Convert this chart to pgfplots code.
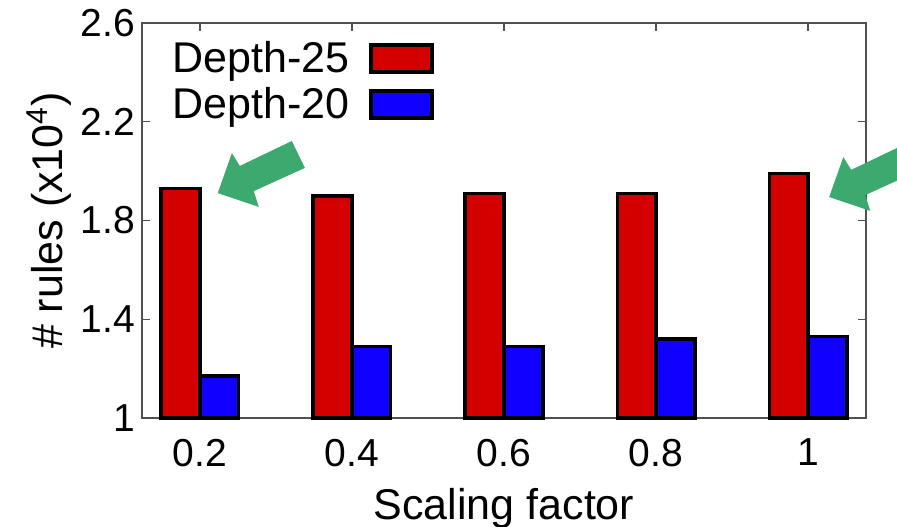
\documentclass[border=0pt]{standalone}
\usepackage{pgfplots}
\pgfplotsset{compat=1.18}
\usepackage{fontspec}
\setmainfont{Liberation Sans}
\definecolor{barred}{RGB}{212,0,0}
\definecolor{barblue}{RGB}{16,0,255}
\definecolor{arrowgreen}{RGB}{60,170,110}
\definecolor{axgray}{RGB}{80,80,80}
\newcommand{\bigfont}{\fontsize{19.5bp}{23bp}\selectfont}
\newcommand{\labfont}{\fontsize{21.5bp}{25bp}\selectfont}
\pgfplotsset{
  legend image code/.code={\draw[#1, line width=1.75bp] (0bp,-6.75bp) rectangle (30.5bp,6.75bp);}
}
\begin{document}
\begin{tikzpicture}
\begin{axis}[
  scale only axis,
  width=362bp, height=197.5bp,
  xmin=-0.38, xmax=4.38,
  ymin=1, ymax=2.6,
  xtick={0,1,2,3,4},
  xticklabels={0.2,0.4,0.6,0.8,1},
  ytick={1,1.4,1.8,2.2,2.6},
  yticklabels={1,1.4,1.8,2.2,2.6},
  tick align=inside,
  major tick length=4bp,
  axis line style={axgray, line width=0.75bp},
  tick style={axgray, line width=0.75bp},
  ticklabel style={font=\bigfont},
  xticklabel style={yshift=-7bp},
  label style={font=\labfont},
  xlabel={Scaling factor},
  ylabel={\# rules (x10\textsuperscript{4})},
  xlabel style={yshift=-4bp},
  ylabel style={yshift=-2bp},
  legend plot pos=right,
  legend style={at={(0,1)}, anchor=north west, xshift=10bp, yshift=-5bp,
    draw=none, fill=none, font=\labfont, row sep=2bp, column sep=8bp},
  legend cell align=left,
  clip=false,
]
\addplot[ybar, bar width=0.255, bar shift=-0.1275, fill=barred, draw=black, line width=1.75bp]
  coordinates {(0,1.93) (1,1.90) (2,1.91) (3,1.91) (4,1.99)};
\addlegendentry{Depth-25}
\addplot[ybar, bar width=0.255, bar shift=0.1275, fill=barblue, draw=black, line width=1.75bp]
  coordinates {(0,1.17) (1,1.29) (2,1.29) (3,1.32) (4,1.33)};
\addlegendentry{Depth-20}
\fill[arrowgreen] (axis cs:0.118,1.911) -- (axis cs:0.211,2.073) -- (axis cs:0.263,2.021)
  -- (axis cs:0.605,2.122) -- (axis cs:0.691,2.013) -- (axis cs:0.355,1.919)
  -- (axis cs:0.388,1.855) -- cycle;
\fill[arrowgreen] (axis cs:4.138,1.895) -- (axis cs:4.231,2.057) -- (axis cs:4.283,2.005)
  -- (axis cs:4.625,2.106) -- (axis cs:4.711,1.997) -- (axis cs:4.375,1.903)
  -- (axis cs:4.408,1.839) -- cycle;
\end{axis}
\pgfresetboundingbox
\path (current axis.south west) ++(-71bp,-54.5bp) rectangle ++(448.5bp,263.5bp);
\end{tikzpicture}
\end{document}
